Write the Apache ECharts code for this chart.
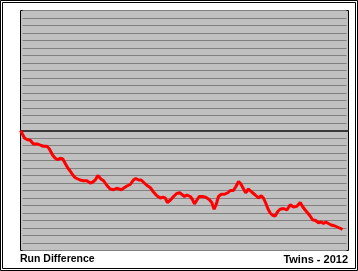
<!DOCTYPE html>
<html>
<head>
<meta charset="utf-8">
<script src="https://cdn.jsdelivr.net/npm/echarts@6/dist/echarts.min.js"></script>
<style>
html,body{margin:0;padding:0;background:#fff;}
#chart{width:358px;height:271px;}
</style>
</head>
<body>
<div id="chart"></div>
<script>
// Game number (x) and cumulative run difference (y), Twins 2012
var games = [0,1,2,3.2,4.9,5.7,6.5,7.4,8.7,9.6,
  10.4,11.6,13.2,14.4,15.2,16.2,17.5,18.8,20,21.3,
  22.5,23.8,25,26.2,27.5,28.5,30,31.7,33.4,35.1,
  36.2,37.6,38.9,39.9,40.6,41.8,43.4,45.1,46.8,48.4,
  49.3,50.7,51.8,53.5,55.2,56.8,58,59.4,60.7,61.9,
  63.5,65.2,66.9,68.6,70.3,71.6,72.8,73.9,75.3,77,
  78.6,80.1,81.1,82.5,83.7,85.4,86.5,87.5,88.7,89.9,
  91.5,93.2,94.9,96.2,97.4,98.4,99.6,101,102.6,104.3,
  105.5,107.1,108.3,109.7,110.8,112.2,113.3,114.7,116.3,118.1,
  119.7,121.1,122.2,123.4,124.4,125.6,126.8,128.1,129.4,130.6,
  132.3,134,135.7,137.3,139,140.7,141.8,142.9,144.5,145.7,
  146.9,148.5,149.9,151.3,152.4,153.6,154.9,156.3,157.9,159.6,
  161.3,162];
var runDiff = [0,-5,-10,-12,-13,-14,-18,-19,-18,-18,
  -20,-21,-21,-24,-26,-33,-37,-39,-37,-38,
  -44,-50,-54,-59,-63,-62,-66,-67,-67,-70,
  -69,-66,-60,-62,-65,-67,-73,-78,-79,-77,
  -75,-79,-77,-74,-72,-66,-64,-66,-66,-69,
  -73,-76,-82,-87,-90,-89,-90,-96,-93,-88,
  -84,-83,-85,-88,-86,-88,-92,-98,-93,-88,
  -88,-89,-92,-96,-105,-99,-88,-85,-85,-83,
  -80,-80,-75,-68,-71,-78,-83,-78,-82,-86,
  -90,-87,-90,-97,-104,-110,-113,-114,-108,-105,
  -104,-106,-99,-102,-101,-96,-101,-105,-110,-114,
  -119,-120,-123,-122,-124,-122,-124,-126,-127,-129,
  -131,-132];
var titleLeft = "Run Difference";
var titleRight = "Twins - 2012";
var xMin = 0, xMax = 165;
var yMin = -160, yMax = 160, yStep = 10;

var pts = games.map(function (g, i) { return [g, runDiff[i]]; });

var chart = echarts.init(document.getElementById('chart'), null, {renderer: 'canvas'});
chart.setOption({
  animation: false,
  backgroundColor: '#ffffff',
  grid: [{
    left: 20.5, top: 10.5, width: 328, height: 240,
    show: true, backgroundColor: '#c0c0c0', borderColor: '#000000', borderWidth: 1, z: 0
  }, {
    left: 22.5, top: 10.5, width: 324, height: 240, show: false, z: 1
  }],
  xAxis: [{
    type: 'value', gridIndex: 0, min: xMin, max: xMax, show: false, splitLine: {show: false}
  }, {
    type: 'value', gridIndex: 1, min: xMin, max: xMax, show: false, splitLine: {show: false}
  }],
  yAxis: [{
    type: 'value', gridIndex: 0, min: yMin, max: yMax, interval: yStep, show: false,
    splitLine: {show: false}
  }, {
    type: 'value', gridIndex: 1, min: yMin, max: yMax, interval: yStep, z: 1,
    axisLine: {show: false}, axisTick: {show: false}, axisLabel: {show: false},
    splitLine: {show: true, lineStyle: {color: '#808080', width: 1}}
  }],
  series: [{
    type: 'line',
    xAxisIndex: 0, yAxisIndex: 0,
    data: pts,
    showSymbol: false,
    lineStyle: {color: '#ff0000', width: 3},
    itemStyle: {color: '#ff0000'},
    z: 5,
    markLine: {
      silent: true,
      symbol: ['none', 'none'],
      label: {show: false},
      lineStyle: {color: '#383838', width: 2, type: 'solid'},
      data: [{yAxis: 0}],
      z: 4
    }
  }],
  graphic: [
    {type: 'rect', shape: {x: 0.5, y: 0.5, width: 357, height: 270},
     style: {fill: null, stroke: '#000', lineWidth: 1}, silent: true},
    {type: 'rect', shape: {x: 2.5, y: 2.5, width: 353, height: 266},
     style: {fill: null, stroke: '#000', lineWidth: 1}, silent: true},
    {type: 'text', left: 20, top: 254,
     style: {text: titleLeft, font: 'bold 10.5px "Liberation Sans", Arial, sans-serif', fill: '#000'}},
    {type: 'text', right: 10, top: 254,
     style: {text: titleRight, font: 'bold 11px "Liberation Sans", Arial, sans-serif', fill: '#000'}}
  ]
});
</script>
</body>
</html>
